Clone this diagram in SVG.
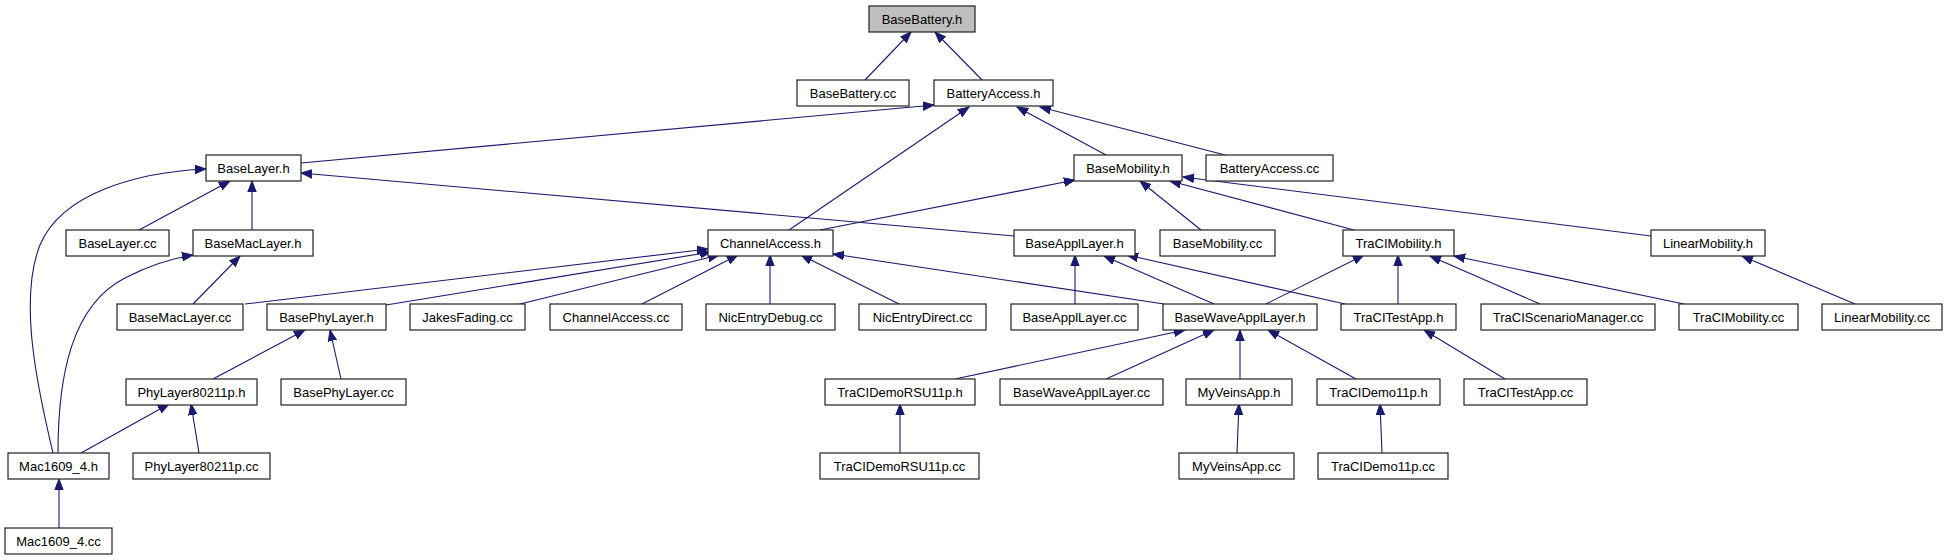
<svg xmlns="http://www.w3.org/2000/svg" width="1948" height="560" viewBox="0 0 1948 560">
<style>
.n rect{fill:#fff;stroke:#222;stroke-width:1.2}
.n.root rect{fill:#bfbfbf}
.n text{font-family:"Liberation Sans",Arial,sans-serif;font-size:13px;fill:#000;text-anchor:middle}
.e path{fill:none;stroke:#191970;stroke-width:1.1;marker-end:url(#ah)}
</style>
<defs>
<marker id="ah" markerWidth="12" markerHeight="10" refX="11" refY="5" orient="auto" markerUnits="userSpaceOnUse">
<path d="M0,0.8 L11,5 L0,9.2 z" fill="#191970" stroke="#191970" stroke-width="1"/>
</marker>
</defs>
<rect width="1948" height="560" fill="#fff"/>
<g id="edges" class="e">
<path d="M865,80 L911,32"/>
<path d="M982,80 L935,32"/>
<path d="M301,163 L934,105"/>
<path d="M789,230 L969,107"/>
<path d="M1106,155 L1017,107"/>
<path d="M1225,155 L1040,107"/>
<path d="M53,453 C38,390 18,300 40,245 C62,192 140,172 206,169"/>
<path d="M139,230 L230,181"/>
<path d="M252,230 L252,181"/>
<path d="M1014,236 L301,173"/>
<path d="M820,230 L1075,180"/>
<path d="M1201,230 L1140,181"/>
<path d="M1354,230 L1170,181"/>
<path d="M1651,236 L1183,177"/>
<path d="M58,453 C58,375 72,305 125,278 C148,266 168,259 193,255"/>
<path d="M193,304 L240,256"/>
<path d="M245,304 L708,249"/>
<path d="M386,305 L711,252"/>
<path d="M516,305 L719,255"/>
<path d="M640,305 L738,255"/>
<path d="M770,304 L770,255"/>
<path d="M899,304 L801,255"/>
<path d="M1164,304 L833,254"/>
<path d="M1075,304 L1075,255"/>
<path d="M1214,304 L1104,256"/>
<path d="M1345,304 L1127,255"/>
<path d="M1266,304 L1364,255"/>
<path d="M1398,304 L1398,255"/>
<path d="M1540,304 L1430,256"/>
<path d="M1684,304 L1454,256"/>
<path d="M1855,304 L1742,256"/>
<path d="M213,379 L305,330"/>
<path d="M341,379 L330,330"/>
<path d="M955,379 L1185,330"/>
<path d="M1106,379 L1214,330"/>
<path d="M1240,379 L1240,330"/>
<path d="M1356,379 L1268,330"/>
<path d="M1505,379 L1424,330"/>
<path d="M81,453 L169,404"/>
<path d="M199,453 L191,404"/>
<path d="M59,528 L59,479"/>
<path d="M900,453 L900,404"/>
<path d="M1237,453 L1239,404"/>
<path d="M1382,453 L1380,404"/>
</g>
<g id="n_BaseBattery_h" class="n root"><rect x="869" y="6" width="106" height="26"/><text x="922" y="23.5">BaseBattery.h</text></g>
<g id="n_BaseBattery_cc" class="n"><rect x="797" y="80" width="112" height="26"/><text x="853" y="97.5">BaseBattery.cc</text></g>
<g id="n_BatteryAccess_h" class="n"><rect x="934" y="80" width="119" height="26"/><text x="993.5" y="97.5">BatteryAccess.h</text></g>
<g id="n_BaseLayer_h" class="n"><rect x="206" y="155" width="95" height="26"/><text x="253.5" y="172.5">BaseLayer.h</text></g>
<g id="n_BaseMobility_h" class="n"><rect x="1074" y="155" width="108" height="26"/><text x="1128" y="172.5">BaseMobility.h</text></g>
<g id="n_BatteryAccess_cc" class="n"><rect x="1206" y="155" width="127" height="26"/><text x="1269.5" y="172.5">BatteryAccess.cc</text></g>
<g id="n_BaseLayer_cc" class="n"><rect x="66" y="230" width="103" height="26"/><text x="117.5" y="247.5">BaseLayer.cc</text></g>
<g id="n_BaseMacLayer_h" class="n"><rect x="193" y="230" width="120" height="26"/><text x="253" y="247.5">BaseMacLayer.h</text></g>
<g id="n_ChannelAccess_h" class="n"><rect x="708" y="230" width="125" height="26"/><text x="770.5" y="247.5">ChannelAccess.h</text></g>
<g id="n_BaseApplLayer_h" class="n"><rect x="1014" y="230" width="121" height="26"/><text x="1074.5" y="247.5">BaseApplLayer.h</text></g>
<g id="n_BaseMobility_cc" class="n"><rect x="1160" y="230" width="115" height="26"/><text x="1217.5" y="247.5">BaseMobility.cc</text></g>
<g id="n_TraCIMobility_h" class="n"><rect x="1343" y="230" width="111" height="26"/><text x="1398.5" y="247.5">TraCIMobility.h</text></g>
<g id="n_LinearMobility_h" class="n"><rect x="1651" y="230" width="114" height="26"/><text x="1708" y="247.5">LinearMobility.h</text></g>
<g id="n_BaseMacLayer_cc" class="n"><rect x="117" y="304" width="126" height="26"/><text x="180" y="321.5">BaseMacLayer.cc</text></g>
<g id="n_BasePhyLayer_h" class="n"><rect x="267" y="304" width="119" height="26"/><text x="326.5" y="321.5">BasePhyLayer.h</text></g>
<g id="n_JakesFading_cc" class="n"><rect x="410" y="304" width="115" height="26"/><text x="467.5" y="321.5">JakesFading.cc</text></g>
<g id="n_ChannelAccess_cc" class="n"><rect x="550" y="304" width="132" height="26"/><text x="616" y="321.5">ChannelAccess.cc</text></g>
<g id="n_NicEntryDebug_cc" class="n"><rect x="706" y="304" width="129" height="26"/><text x="770.5" y="321.5">NicEntryDebug.cc</text></g>
<g id="n_NicEntryDirect_cc" class="n"><rect x="859" y="304" width="127" height="26"/><text x="922.5" y="321.5">NicEntryDirect.cc</text></g>
<g id="n_BaseApplLayer_cc" class="n"><rect x="1011" y="304" width="127" height="26"/><text x="1074.5" y="321.5">BaseApplLayer.cc</text></g>
<g id="n_BaseWaveApplLayer_h" class="n"><rect x="1163" y="304" width="154" height="26"/><text x="1240" y="321.5">BaseWaveApplLayer.h</text></g>
<g id="n_TraCITestApp_h" class="n"><rect x="1341" y="304" width="115" height="26"/><text x="1398.5" y="321.5">TraCITestApp.h</text></g>
<g id="n_TraCIScenarioManager_cc" class="n"><rect x="1481" y="304" width="174" height="26"/><text x="1568" y="321.5">TraCIScenarioManager.cc</text></g>
<g id="n_TraCIMobility_cc" class="n"><rect x="1679" y="304" width="119" height="26"/><text x="1738.5" y="321.5">TraCIMobility.cc</text></g>
<g id="n_LinearMobility_cc" class="n"><rect x="1822" y="304" width="120" height="26"/><text x="1882" y="321.5">LinearMobility.cc</text></g>
<g id="n_PhyLayer80211p_h" class="n"><rect x="126" y="379" width="131" height="26"/><text x="191.5" y="396.5">PhyLayer80211p.h</text></g>
<g id="n_BasePhyLayer_cc" class="n"><rect x="281" y="379" width="125" height="26"/><text x="343.5" y="396.5">BasePhyLayer.cc</text></g>
<g id="n_TraCIDemoRSU11p_h" class="n"><rect x="825" y="379" width="150" height="26"/><text x="900" y="396.5">TraCIDemoRSU11p.h</text></g>
<g id="n_BaseWaveApplLayer_cc" class="n"><rect x="1000" y="379" width="163" height="26"/><text x="1081.5" y="396.5">BaseWaveApplLayer.cc</text></g>
<g id="n_MyVeinsApp_h" class="n"><rect x="1186" y="379" width="106" height="26"/><text x="1239" y="396.5">MyVeinsApp.h</text></g>
<g id="n_TraCIDemo11p_h" class="n"><rect x="1317" y="379" width="123" height="26"/><text x="1378.5" y="396.5">TraCIDemo11p.h</text></g>
<g id="n_TraCITestApp_cc" class="n"><rect x="1464" y="379" width="123" height="26"/><text x="1525.5" y="396.5">TraCITestApp.cc</text></g>
<g id="n_Mac1609_4_h" class="n"><rect x="8" y="453" width="101" height="26"/><text x="58.5" y="470.5">Mac1609_4.h</text></g>
<g id="n_PhyLayer80211p_cc" class="n"><rect x="133" y="453" width="137" height="26"/><text x="201.5" y="470.5">PhyLayer80211p.cc</text></g>
<g id="n_TraCIDemoRSU11p_cc" class="n"><rect x="820" y="453" width="159" height="26"/><text x="899.5" y="470.5">TraCIDemoRSU11p.cc</text></g>
<g id="n_MyVeinsApp_cc" class="n"><rect x="1179" y="453" width="115" height="26"/><text x="1236.5" y="470.5">MyVeinsApp.cc</text></g>
<g id="n_TraCIDemo11p_cc" class="n"><rect x="1318" y="453" width="130" height="26"/><text x="1383" y="470.5">TraCIDemo11p.cc</text></g>
<g id="n_Mac1609_4_cc" class="n"><rect x="5" y="528" width="107" height="26"/><text x="58.5" y="545.5">Mac1609_4.cc</text></g>
</svg>
